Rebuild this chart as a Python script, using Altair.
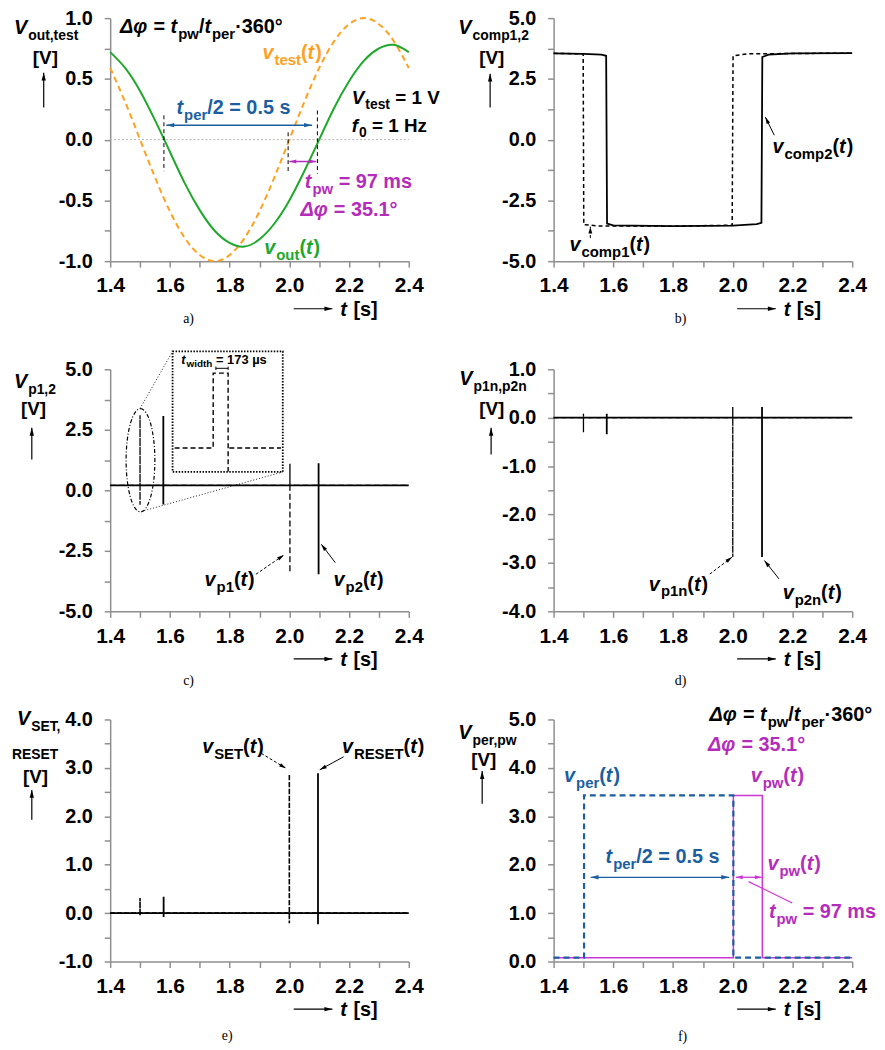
import math
import altair as alt
import pandas as pd

FONT = "Liberation Sans"
SERIF = "Liberation Serif"
BLUE = "#1B5FA0"
MAG = "#B42CBA"
MAG2 = "#CC36D6"
ORANGE = "#FFA11F"
GREEN = "#1FA82C"
GRAY = "#8F8F8F"

# ------------------------------------------------------------------ data
X_TICKS = [1.4, 1.5, 1.6, 1.7, 1.8, 1.9, 2.0, 2.1, 2.2, 2.3, 2.4]

# a) sine signals
T_A = [1.40, 1.45, 1.50, 1.55, 1.60, 1.65, 1.70, 1.75, 1.80, 1.85, 1.90,
       1.95, 2.00, 2.05, 2.10, 2.15, 2.20, 2.25, 2.30, 2.35, 2.40]
V_TEST = [0.59, 0.31, 0.00, -0.31, -0.59, -0.81, -0.95, -1.00, -0.95, -0.81, -0.59,
          -0.31, 0.00, 0.31, 0.59, 0.81, 0.95, 1.00, 0.95, 0.81, 0.59]
V_OUT = [0.72, 0.59, 0.40, 0.16, -0.10, -0.36, -0.58, -0.75, -0.85, -0.88, -0.82,
         -0.69, -0.50, -0.26, 0.00, 0.26, 0.48, 0.65, 0.75, 0.78, 0.72]
Y_TICKS_A = [-1.0, -0.75, -0.5, -0.25, 0.0, 0.25, 0.5, 0.75, 1.0]
A_MARK_T = [1.58, 1.996, 2.094]
A_MARK_TOP = [0.20, 0.06, 0.24]
A_MARK_BOT = [-0.26, -0.26, -0.28]

# b) comparator outputs
T_COMP1 = [1.40, 1.499, 1.501, 1.55, 1.80, 1.998, 2.001, 2.05, 2.40]
V_COMP1 = [3.55, 3.53, -3.50, -3.55, -3.56, -3.52, 3.45, 3.53, 3.56]
T_COMP2 = [1.40, 1.50, 1.56, 1.576, 1.579, 1.60, 1.80, 2.00, 2.08, 2.096, 2.099, 2.12, 2.20, 2.40]
V_COMP2 = [3.55, 3.53, 3.50, 3.45, -3.45, -3.53, -3.56, -3.54, -3.48, -3.42, 3.40, 3.50, 3.55, 3.56]
Y_TICKS_B = [-5.0, -3.75, -2.5, -1.25, 0.0, 1.25, 2.5, 3.75, 5.0]

# c) pulses p1, p2
T_P1 = [1.40, 1.500, 1.500, 1.500, 1.500, 2.002, 2.002, 2.002, 2.002, 2.40]
V_P1 = [0.20, 0.20, 3.10, -0.60, 0.20, 0.20, 1.10, -3.40, 0.20, 0.20]
T_P2 = [1.40, 1.578, 1.578, 1.578, 1.578, 2.098, 2.098, 2.098, 2.098, 2.40]
V_P2 = [0.20, 0.20, 3.07, -0.59, 0.20, 0.20, 1.12, -3.47, 0.20, 0.20]
Y_TICKS_C = Y_TICKS_B
ZOOM_T = [1.616, 1.745, 1.745, 1.795, 1.795, 1.799, 1.972]
ZOOM_V = [1.75, 1.75, 4.84, 4.84, 0.78, 1.75, 1.75]
ZOOM_G = [0, 0, 0, 0, 0, 1, 1]

# d) negated pulses
T_P1N = [1.40, 1.500, 1.500, 1.500, 1.500, 2.000, 2.000, 2.000, 2.000, 2.40]
V_P1N = [0.00, 0.00, 0.08, -0.30, 0.00, 0.00, 0.22, -2.88, 0.00, 0.00]
T_P2N = [1.40, 1.578, 1.578, 1.578, 1.578, 2.098, 2.098, 2.098, 2.098, 2.40]
V_P2N = [0.00, 0.00, 0.08, -0.34, 0.00, 0.00, 0.22, -2.88, 0.00, 0.00]
Y_TICKS_D = [-4.0, -3.5, -3.0, -2.5, -2.0, -1.5, -1.0, -0.5, 0.0, 0.5, 1.0]

# e) SET / RESET
T_SET = [1.40, 1.500, 1.500, 1.500, 1.500, 2.000, 2.000, 2.000, 2.000, 2.40]
V_SET = [0.00, 0.00, 0.31, -0.05, 0.00, 0.00, 2.87, -0.21, 0.00, 0.00]
T_RESET = [1.40, 1.579, 1.579, 1.579, 1.579, 2.096, 2.096, 2.096, 2.096, 2.40]
V_RESET = [0.00, 0.00, 0.34, -0.08, 0.00, 0.00, 2.89, -0.23, 0.00, 0.00]
Y_TICKS_E = [-1.0, -0.5, 0.0, 0.5, 1.0, 1.5, 2.0, 2.5, 3.0, 3.5, 4.0]

# f) per / pw
T_PER = [1.40, 1.502, 1.502, 2.002, 2.002, 2.40]
V_PER = [0.08, 0.08, 3.43, 3.43, 0.08, 0.08]
T_PW = [1.40, 2.002, 2.002, 2.099, 2.099, 2.40]
V_PW = [0.08, 0.08, 3.43, 3.43, 0.08, 0.08]
Y_TICKS_F = [0.0, 0.5, 1.0, 1.5, 2.0, 2.5, 3.0, 3.5, 4.0, 4.5, 5.0]

# ------------------------------------------------------------------ helpers
WID = {' ': 278, '(': 333, ')': 333, ',': 278, '-': 333, '.': 278, '/': 278, '=': 584,
       '[': 333, ']': 333, '°': 400, '·': 278, 'µ': 611, 'Δ': 640, 'φ': 720}
for ch in '0123456789':
    WID[ch] = 556
WID.update(dict(zip('abcdefghijklmnopqrstuvwxyz',
                    [556, 611, 556, 611, 556, 333, 611, 611, 278, 278, 556, 278, 889,
                     611, 611, 611, 611, 389, 556, 333, 611, 556, 778, 556, 556, 500])))
WID.update(dict(zip('ABCDEFGHIJKLMNOPQRSTUVWXYZ',
                    [722, 722, 722, 722, 667, 611, 778, 722, 278, 556, 722, 611, 833,
                     722, 778, 667, 778, 722, 667, 611, 722, 667, 944, 667, 667, 611])))


def tw(s, size):
    return sum(WID.get(c, 600) for c in s) * size / 1000.0


AX_COMMON = dict(title=None, grid=False, domainColor=GRAY, domainWidth=1.5, tickColor=GRAY,
                 tickWidth=1.5, tickSize=6, labelFont=FONT, labelFontWeight='bold',
                 labelColor='black', labelOverlap=False, labelFlush=False)
XLAB = "round(datum.value*10) % 2 == 0 ? format(datum.value, '.1f') : ''"


class P:
    def __init__(self, ydom, yticks, lstep, W, H):
        self.ydom = ydom
        self.W = W
        self.H = H
        self.xs = alt.Scale(domain=[1.4, 2.4], nice=False, zero=False)
        self.ys = alt.Scale(domain=ydom, nice=False, zero=False)
        f = 2.0 / lstep
        ylab = ("abs(round(datum.value*%s)) %% 2 == 0 ? replace(format(datum.value, '.1f'), '\u2212', '-') : ''" % f)
        self.xaxis = alt.Axis(values=X_TICKS, labelExpr=XLAB, labelFontSize=21, labelPadding=8, **AX_COMMON)
        self.yaxis = alt.Axis(values=yticks, labelExpr=ylab, labelFontSize=20, labelPadding=12, **AX_COMMON)

    def X(self, f='x'):
        return alt.X(f + ':Q', scale=self.xs, axis=self.xaxis)

    def Y(self, f='y'):
        return alt.Y(f + ':Q', scale=self.ys, axis=self.yaxis)

    def px(self, t):
        return (t - 1.4) * self.W

    def py(self, v):
        return (self.ydom[1] - v) / (self.ydom[1] - self.ydom[0]) * self.H

    def tx(self, px):
        return 1.4 + px / self.W

    def ty(self, py):
        return self.ydom[1] - py / self.H * (self.ydom[1] - self.ydom[0])


def axes_layer(p):
    df = pd.DataFrame({'x': [1.4, 2.4], 'y': p.ydom})
    return alt.Chart(df).mark_point(opacity=0).encode(x=p.X(), y=p.Y())


def txt(p, x, y, segs, color='black', size=20, sub=15, sub_dy=6, pixel=False, font=FONT, weight='bold'):
    out = []
    off = 0.0
    df = pd.DataFrame({'x': [x], 'y': [y]})
    for s, k in segs:
        is_sub = k.startswith('s')
        fs = sub if is_sub else size
        style = 'italic' if k in ('i', 'si') else 'normal'
        lead = len(s) - len(s.lstrip(' '))
        trail = len(s) - len(s.rstrip(' '))
        core = s.strip(' ')
        off += lead * 278 * fs / 1000.0
        ch = alt.Chart(df).mark_text(text=core, align='left', baseline='alphabetic', dx=round(off, 2),
                                     dy=(sub_dy if is_sub else 0), font=font, fontSize=fs,
                                     fontStyle=style, fontWeight=weight, color=color)
        if pixel:
            ch = ch.encode(x=alt.value(x), y=alt.value(y))
        else:
            ch = ch.encode(x=p.X(), y=p.Y())
        out.append(ch)
        off += tw(core, fs) + trail * 278 * fs / 1000.0 + (1.0 if style == 'italic' else 0.0)
    return out


HEAD = "M0,-1 L0.55,1 L-0.55,1 Z"


def arrow(p, x1, y1, x2, y2, color='black', width=1.2, dash=None, heads=('end',), hl=9, pixel=False):
    out = []
    kw = dict(color=color, strokeWidth=width)
    if dash:
        kw['strokeDash'] = dash
    df = pd.DataFrame({'x': [x1], 'y': [y1], 'x2': [x2], 'y2': [y2]})
    if pixel:
        out.append(alt.Chart(df).mark_rule(**kw).encode(
            x=alt.value(x1), y=alt.value(y1), x2=alt.value(x2), y2=alt.value(y2)))
        a1, b1, a2, b2 = x1, y1, x2, y2
    else:
        out.append(alt.Chart(df).mark_rule(**kw).encode(
            x=p.X(), y=p.Y(), x2=alt.X2('x2:Q'), y2=alt.Y2('y2:Q')))
        a1, b1, a2, b2 = p.px(x1), p.py(y1), p.px(x2), p.py(y2)
    ends = []
    if 'end' in heads:
        ends.append((a2, b2, a2 - a1, b2 - b1))
    if 'start' in heads:
        ends.append((a1, b1, a1 - a2, b1 - b2))
    for tx_, ty_, dx, dy in ends:
        L = math.hypot(dx, dy)
        ux, uy = dx / L, dy / L
        cx, cy = tx_ - ux * hl / 2, ty_ - uy * hl / 2
        ang = math.degrees(math.atan2(ux, -uy)) % 360
        hdf = pd.DataFrame({'x': [p.tx(cx) if not pixel else cx], 'y': [p.ty(cy) if not pixel else cy]})
        mk = alt.Chart(hdf).mark_point(shape=HEAD, size=hl * hl, angle=round(ang, 2), filled=True,
                                       color=color, opacity=1, strokeWidth=0)
        if pixel:
            mk = mk.encode(x=alt.value(cx), y=alt.value(cy))
        else:
            mk = mk.encode(x=p.X(), y=p.Y())
        out.append(mk)
    return out


def line(p, ts, vs, color, width=1.6, dash=None, interp=None, groups=None):
    df = pd.DataFrame({'x': ts, 'y': vs, 'i': list(range(len(ts)))})
    kw = dict(color=color, strokeWidth=width)
    if dash:
        kw['strokeDash'] = dash
    if interp:
        kw['interpolate'] = interp
    enc = dict(x=p.X(), y=p.Y(), order='i:Q')
    if groups is not None:
        df['g'] = groups
        enc['detail'] = 'g:N'
    return alt.Chart(df).mark_line(**kw).encode(**enc)


def rules(p, ts, tops, bots, color='black', width=1.0, dash=None):
    df = pd.DataFrame({'x': ts, 'y': tops, 'y2': bots})
    kw = dict(color=color, strokeWidth=width)
    if dash:
        kw['strokeDash'] = dash
    return alt.Chart(df).mark_rule(**kw).encode(x=p.X(), y=p.Y(), y2=alt.Y2('y2:Q'))


def frame_bits(p, title_segs, title_pos, v_pos, arr, caption, cap_pos, extra_title=None):
    out = []
    out += txt(p, title_pos[0], title_pos[1], title_segs, size=20, sub=14, sub_dy=6, pixel=True)
    if extra_title:
        out += txt(p, extra_title[0], extra_title[1], extra_title[2], size=14, pixel=True)
    out += txt(p, v_pos[0], v_pos[1], [("[V]", 'n')], size=19, pixel=True)
    out += arrow(p, arr[0], arr[1], arr[0], arr[2], pixel=True, width=1.2, hl=8)
    out += arrow(p, 185, p.H + 48, 224, p.H + 48, pixel=True, width=1.2, hl=8)
    out += txt(p, 232, p.H + 55, [("t", 'i'), (" [s]", 'n')], size=20, pixel=True)
    cdf = pd.DataFrame({'x': [0]})
    out.append(alt.Chart(cdf).mark_text(text=caption, font=SERIF, fontSize=14, color='black',
                                        align='center', baseline='middle').encode(
        x=alt.value(cap_pos[0]), y=alt.value(cap_pos[1])))
    return out


def panel(p, layers):
    return alt.layer(axes_layer(p), *layers).properties(width=p.W, height=p.H)


# ------------------------------------------------------------------ panel a
pa = P([-1.0, 1.0], Y_TICKS_A, 0.5, 301, 245)
La = []
La.append(alt.Chart(pd.DataFrame({'x': [1.4], 'x2': [2.4], 'y': [0.0]})).mark_rule(
    color='#B0B0B0', strokeDash=[2, 2], strokeWidth=1).encode(x=pa.X(), x2=alt.X2('x2:Q'), y=pa.Y()))
La.append(line(pa, T_A, V_TEST, ORANGE, width=2, dash=[6, 4], interp='natural'))
La.append(line(pa, T_A, V_OUT, GREEN, width=2, interp='natural'))
La.append(rules(pa, A_MARK_T, A_MARK_TOP, A_MARK_BOT, dash=[4, 3], width=1))
La += arrow(pa, 1.588, 0.119, 2.076, 0.119, color=BLUE, width=1.5, heads=('start', 'end'), hl=8)
La += arrow(pa, 2.0, -0.18, 2.09, -0.18, color=MAG, width=1.5, heads=('start', 'end'), hl=7)
La += txt(pa, 1.433, 0.88, [("Δφ", 'i'), (" = ", 'n'), ("t", 'i'), ("pw", 's'), ("/", 'n'),
                            ("t", 'i'), ("per", 's'), ("·360°", 'n')])
La += txt(pa, 1.91, 0.664, [("v", 'i'), ("test", 's'), ("(", 'n'), ("t", 'i'), (")", 'n')], color=ORANGE)
La += txt(pa, 1.622, 0.214, [("t", 'i'), ("per", 's'), ("/2 = 0.5 s", 'n')], color=BLUE)
La += txt(pa, 2.209, 0.29, [("V", 'i'), ("test", 's'), (" = 1 V", 'n')], size=19, sub=14, sub_dy=5)
La += txt(pa, 2.209, 0.06, [("f", 'i'), ("0", 's'), (" = 1 Hz", 'n')], size=19, sub=14, sub_dy=5)
La += txt(pa, 2.052, -0.40, [("t", 'i'), ("pw", 's'), (" = 97 ms", 'n')], color=MAG)
La += txt(pa, 2.037, -0.632, [("Δφ", 'i'), (" = 35.1°", 'n')], color=MAG)
La += txt(pa, 1.916, -0.945, [("v", 'i'), ("out", 's'), ("(", 'n'), ("t", 'i'), (")", 'n')], color=GREEN)
La += frame_bits(pa, [("V", 'i'), ("out,test", 's')], (-97, 16), (-78, 46), (-67, 90, 55), "a)", (79, 303))
chart_a = panel(pa, La)

# ------------------------------------------------------------------ panel b
pb = P([-5.0, 5.0], Y_TICKS_B, 2.5, 301, 245)
Lb = []
Lb.append(line(pb, T_COMP1, V_COMP1, 'black', width=1.5, dash=[4, 3]))
Lb.append(line(pb, T_COMP2, V_COMP2, 'black', width=1.8))
Lb += arrow(pb, 2.139, 0.18, 2.109, 0.93, width=1.0, hl=7)
Lb += arrow(pb, 1.523, -4.05, 1.523, -3.58, width=1.0, dash=[3, 2], hl=7)
Lb += txt(pb, 2.133, -0.57, [("v", 'i'), ("comp2", 's'), ("(", 'n'), ("t", 'i'), (")", 'n')])
Lb += txt(pb, 1.453, -4.59, [("v", 'i'), ("comp1", 's'), ("(", 'n'), ("t", 'i'), (")", 'n')])
Lb += frame_bits(pb, [("V", 'i'), ("comp1,2", 's')], (-96, 16), (-75, 46), (-64, 90, 56), "b)", (128, 303))
chart_b = panel(pb, Lb)

# ------------------------------------------------------------------ panel c
pc = P([-5.0, 5.0], Y_TICKS_C, 2.5, 301, 244)
Lc = []
Lc.append(line(pc, T_P2, V_P2, 'black', width=1.8))
Lc.append(line(pc, T_P1, V_P1, 'black', width=1.3, dash=[6, 3]))
k = 0.5523
rx = 0.279
ELL = ("M0,-1 C%.3f,-1 %.3f,%.3f %.3f,0 C%.3f,%.3f %.3f,1 0,1 C%.3f,1 %.3f,%.3f %.3f,0 C%.3f,%.3f %.3f,-1 0,-1 Z"
       % (k * rx, rx, -k, rx, rx, k, k * rx, -k * rx, -rx, k, -rx, -rx, -k, -k * rx))
Lc.append(alt.Chart(pd.DataFrame({'x': [1.5015], 'y': [1.24]})).mark_point(
    shape=ELL, size=10816, filled=False, color='black', strokeWidth=1.2, strokeDash=[4, 2, 1, 2], opacity=1
).encode(x=pc.X(), y=pc.Y()))
Lc.append(alt.Chart(pd.DataFrame({'x': [1.609], 'x2': [1.978], 'y': [0.76], 'y2': [5.74]})).mark_rect(
    fillOpacity=0, stroke='black', strokeWidth=1.8, strokeDash=[1.5, 1.5]
).encode(x=pc.X(), x2=alt.X2('x2:Q'), y=pc.Y(), y2=alt.Y2('y2:Q')))
Lc += arrow(pc, 1.5, 3.38, 1.609, 5.74, width=0.9, dash=[1, 2], heads=())
Lc += arrow(pc, 1.505, -0.87, 1.978, 0.76, width=0.9, dash=[1, 2], heads=())
Lc.append(line(pc, ZOOM_T, ZOOM_V, 'black', width=1.4, dash=[5, 3], groups=ZOOM_G))
Lc += arrow(pc, 1.754, 5.04, 1.795, 5.04, width=1.0, heads=())
Lc.append(rules(pc, [1.754, 1.795], [5.11, 5.11], [4.97, 4.97], width=1.0))
Lc += txt(pc, 1.638, 5.2, [("t", 'i'), ("width", 's'), (" = 173 µs", 'n')], size=13, sub=10, sub_dy=3)
Lc += arrow(pc, 1.888, -3.47, 1.982, -2.67, width=1.0, dash=[3, 2], hl=7)
Lc += arrow(pc, 2.154, -2.99, 2.107, -2.23, width=1.0, hl=7)
Lc += txt(pc, 1.716, -3.95, [("v", 'i'), ("p1", 's'), ("(", 'n'), ("t", 'i'), (")", 'n')])
Lc += txt(pc, 2.148, -3.95, [("v", 'i'), ("p2", 's'), ("(", 'n'), ("t", 'i'), (")", 'n')])
Lc += frame_bits(pc, [("V", 'i'), ("p1,2", 's')], (-97, 19), (-90, 46), (-79, 91, 59), "c)", (79, 314))
chart_c = panel(pc, Lc)

# ------------------------------------------------------------------ panel d
pd_ = P([-4.0, 1.0], Y_TICKS_D, 1.0, 301, 244)
Ld = []
Ld.append(line(pd_, T_P2N, V_P2N, 'black', width=1.8))
Ld.append(line(pd_, T_P1N, V_P1N, 'black', width=1.3, dash=[5, 3]))
Ld += arrow(pd_, 1.923, -3.23, 1.998, -2.88, width=1.0, dash=[3, 2], hl=7)
Ld += arrow(pd_, 2.155, -3.33, 2.106, -2.95, width=1.0, hl=7)
Ld += txt(pd_, 1.719, -3.57, [("v", 'i'), ("p1n", 's'), ("(", 'n'), ("t", 'i'), (")", 'n')])
Ld += txt(pd_, 2.167, -3.74, [("v", 'i'), ("p2n", 's'), ("(", 'n'), ("t", 'i'), (")", 'n')])
Ld += frame_bits(pd_, [("V", 'i'), ("p1n,p2n", 's')], (-95, 16), (-75, 46), (-63, 86, 59), "d)", (128, 314))
chart_d = panel(pd_, Ld)

# ------------------------------------------------------------------ panel e
pe = P([-1.0, 4.0], Y_TICKS_E, 1.0, 301, 244)
Le = []
Le.append(line(pe, T_RESET, V_RESET, 'black', width=1.8))
Le.append(line(pe, T_SET, V_SET, 'black', width=1.6, dash=[5, 2]))
Le += arrow(pe, 1.906, 3.30, 1.989, 2.99, width=1.0, dash=[3, 2], hl=7)
Le += arrow(pe, 2.182, 3.23, 2.102, 2.96, width=1.0, hl=7)
Le += txt(pe, 1.708, 3.30, [("v", 'i'), ("SET", 's'), ("(", 'n'), ("t", 'i'), (")", 'n')])
Le += txt(pe, 2.176, 3.30, [("v", 'i'), ("RESET", 's'), ("(", 'n'), ("t", 'i'), (")", 'n')])
Le += frame_bits(pe, [("V", 'i'), ("SET,", 's')], (-94, 6), (-88, 64), (-79, 101, 71), "e)", (118, 319),
                 extra_title=(-99, 40, [("RESET", 'n')]))
chart_e = panel(pe, Le)

# ------------------------------------------------------------------ panel f
pf = P([0.0, 5.0], Y_TICKS_F, 1.0, 301, 244)
Lf = []
Lf.append(line(pf, T_PW, V_PW, MAG2, width=1.5))
Lf.append(line(pf, T_PER, V_PER, BLUE, width=2.2, dash=[6, 4]))
Lf += arrow(pf, 1.524, 1.74, 1.988, 1.74, color=BLUE, width=1.3, heads=('start', 'end'), hl=8)
Lf += arrow(pf, 2.010, 1.74, 2.097, 1.74, color=MAG2, width=1.3, heads=('start', 'end'), hl=7)
Lf += arrow(pf, 2.053, 1.65, 2.199, 1.21, color=MAG2, width=1.2, heads=())
Lf += txt(pf, 1.922, 4.97, [("Δφ", 'i'), (" = ", 'n'), ("t", 'i'), ("pw", 's'), ("/", 'n'),
                            ("t", 'i'), ("per", 's'), ("·360°", 'n')])
Lf += txt(pf, 1.917, 4.35, [("Δφ", 'i'), (" = 35.1°", 'n')], color=MAG)
Lf += txt(pf, 1.435, 3.70, [("v", 'i'), ("per", 's'), ("(", 'n'), ("t", 'i'), (")", 'n')], color=BLUE)
Lf += txt(pf, 2.060, 3.70, [("v", 'i'), ("pw", 's'), ("(", 'n'), ("t", 'i'), (")", 'n')], color=MAG)
Lf += txt(pf, 1.574, 2.03, [("t", 'i'), ("per", 's'), ("/2 = 0.5 s", 'n')], color=BLUE)
Lf += txt(pf, 2.116, 1.89, [("v", 'i'), ("pw", 's'), ("(", 'n'), ("t", 'i'), (")", 'n')], color=MAG)
Lf += txt(pf, 2.121, 0.90, [("t", 'i'), ("pw", 's'), (" = 97 ms", 'n')], color=MAG)
Lf += frame_bits(pf, [("V", 'i'), ("per,pw", 's')], (-96, 20), (-83, 47), (-72, 85, 52), "f)", (130, 320))
chart_f = panel(pf, Lf)

chart = alt.concat(chart_a, chart_b, chart_c, chart_d, chart_e, chart_f, columns=2,
                   spacing={"row": 109, "column": 146}, bounds="flush").configure_view(
    stroke="transparent").properties(padding={"left": 3, "top": -5, "right": 0, "bottom": 0})

chart.save("out.html", embed_options={"renderer": "svg", "actions": False})
